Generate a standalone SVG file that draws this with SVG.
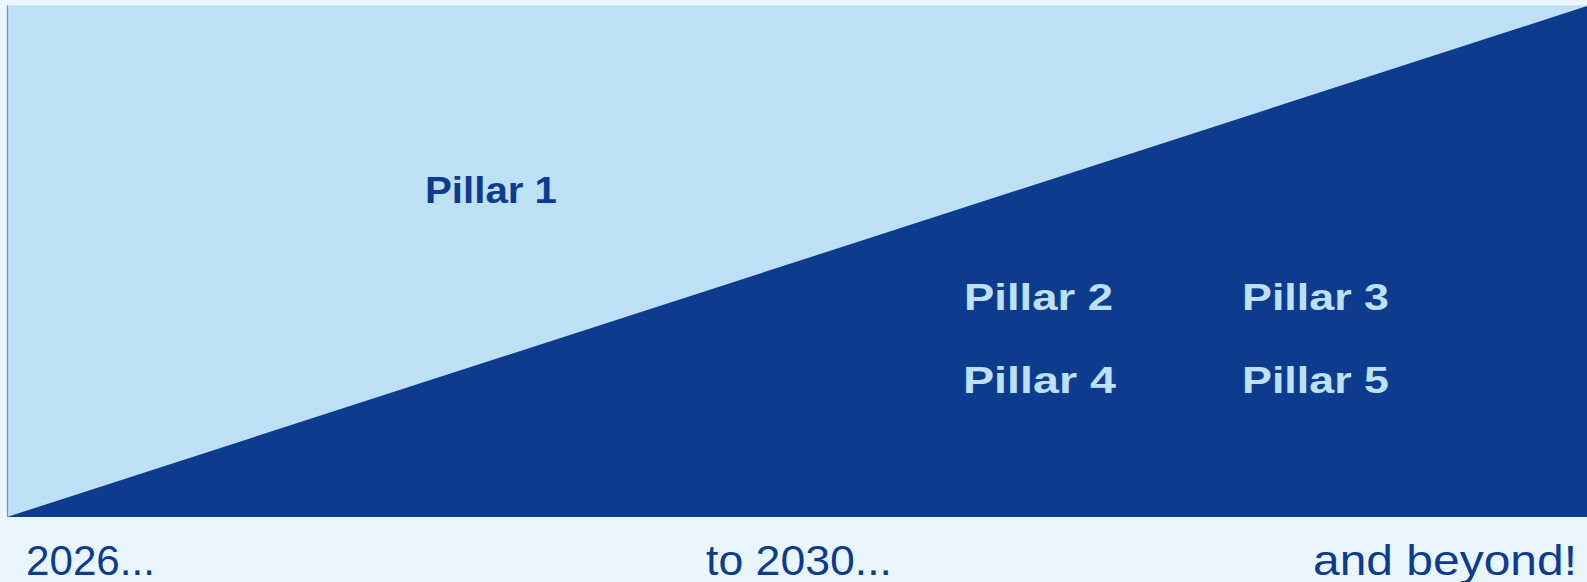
<svg xmlns="http://www.w3.org/2000/svg" width="1587" height="582" viewBox="0 0 1587 582">
  <style>
    .pillar { font-family: "Liberation Sans", Arial, sans-serif; font-weight: bold; font-size: 37px; }
    .on-light { fill: #0D3C8E; }
    .on-dark { fill: #BEE0F5; }
    .time { font-family: "Liberation Sans", Arial, sans-serif; font-size: 42px; fill: #0D3C8E; }
  </style>
  <!-- page background -->
  <rect x="0" y="0" width="1587" height="582" fill="#EAF6FE"/>
  <!-- chart area: light upper triangle, dark lower triangle -->
  <g id="chart">
    <rect x="7" y="5.5" width="1580" height="511.5" fill="#BEE0F5"/>
    <polygon points="7,517 1587,6 1587,517" fill="#0D3C8E"/>
    <line x1="7.5" y1="5.5" x2="7.5" y2="517" stroke="#6C8FC4" stroke-width="1.2"/>
  </g>
  <g id="pillar-1">
    <text class="pillar on-light" x="425" y="203" textLength="132" lengthAdjust="spacingAndGlyphs">Pillar 1</text>
  </g>
  <g id="pillar-2">
    <text class="pillar on-dark" x="964" y="310" textLength="149" lengthAdjust="spacingAndGlyphs">Pillar 2</text>
  </g>
  <g id="pillar-3">
    <text class="pillar on-dark" x="1242" y="310" textLength="147" lengthAdjust="spacingAndGlyphs">Pillar 3</text>
  </g>
  <g id="pillar-4">
    <text class="pillar on-dark" x="963" y="393" textLength="153" lengthAdjust="spacingAndGlyphs">Pillar 4</text>
  </g>
  <g id="pillar-5">
    <text class="pillar on-dark" x="1242" y="393" textLength="147" lengthAdjust="spacingAndGlyphs">Pillar 5</text>
  </g>
  <!-- timeline captions -->
  <g id="timeline">
    <text class="time" x="26" y="575" textLength="129" lengthAdjust="spacingAndGlyphs">2026...</text>
    <text class="time" x="706" y="575" textLength="186" lengthAdjust="spacingAndGlyphs">to 2030...</text>
    <text class="time" x="1313" y="575" textLength="264" lengthAdjust="spacingAndGlyphs">and beyond!</text>
  </g>
</svg>
